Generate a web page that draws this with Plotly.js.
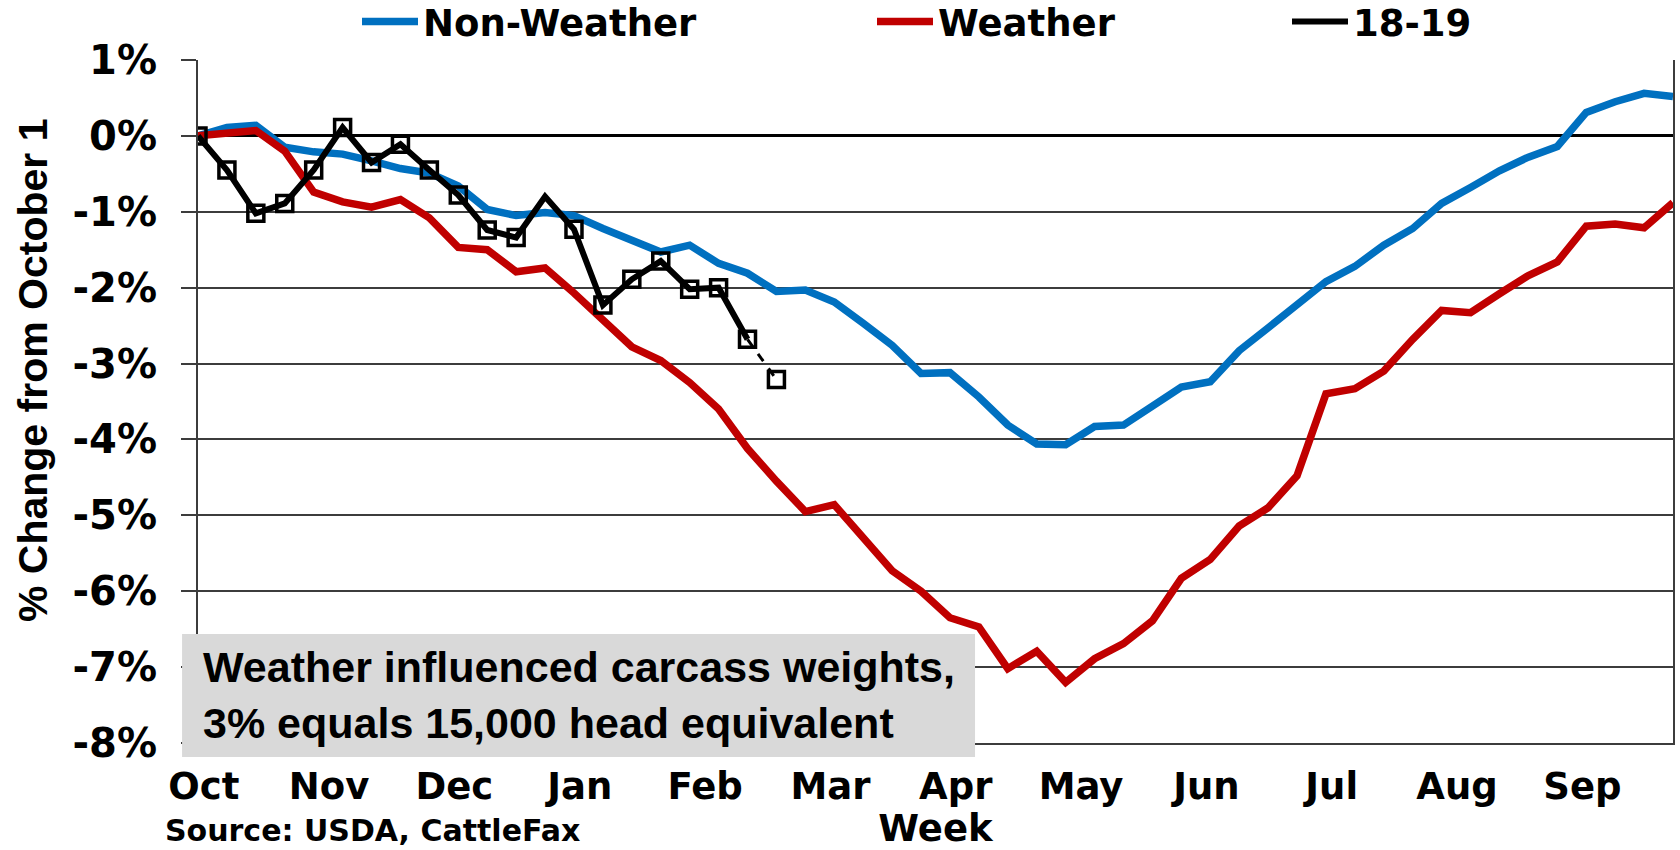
<!DOCTYPE html>
<html>
<head>
<meta charset="utf-8">
<script src="https://cdn.plot.ly/plotly-3.0.1.min.js"></script>
<style>
  html, body { margin: 0; padding: 0; background: #fff; }
  #chart { width: 1680px; height: 850px; }
</style>
</head>
<body>
<div id="chart"></div>
<script>
// Weeks since October 1 (0 = first week of October)
var weeks = [];
for (var i = 0; i < 52; i++) weeks.push(i);

// % change from October 1
var nonWeather = [0, 0.11, 0.14, -0.15, -0.21, -0.24, -0.33, -0.43, -0.49, -0.66,
  -0.97, -1.05, -1.01, -1.05, -1.22, -1.37, -1.53, -1.44, -1.68, -1.81,
  -2.05, -2.03, -2.19, -2.47, -2.76, -3.13, -3.12, -3.44, -3.81, -4.06,
  -4.07, -3.83, -3.81, -3.56, -3.31, -3.24, -2.83, -2.53, -2.22, -1.92,
  -1.72, -1.44, -1.22, -0.89, -0.68, -0.46, -0.28, -0.14, 0.31, 0.45,
  0.56, 0.52];

var weather = [0, 0.03, 0.07, -0.20, -0.74, -0.87, -0.94, -0.84, -1.08, -1.47,
  -1.50, -1.79, -1.74, -2.07, -2.43, -2.78, -2.96, -3.25, -3.60, -4.12,
  -4.55, -4.95, -4.86, -5.29, -5.73, -6.00, -6.35, -6.47, -7.02, -6.79,
  -7.20, -6.89, -6.69, -6.39, -5.83, -5.58, -5.14, -4.90, -4.48, -3.40,
  -3.33, -3.10, -2.68, -2.30, -2.33, -2.08, -1.84, -1.66, -1.19, -1.16,
  -1.21, -0.88];

// 2018-19 season so far; last week is a preliminary estimate (dashed)
var season1819 = [0, -0.45, -1.02, -0.89, -0.45, 0.11, -0.35, -0.11, -0.45, -0.78,
  -1.24, -1.34, -0.80, -1.23, -2.23, -1.89, -1.65, -2.02, -2.00, -2.68,
  -3.21];

var monthLabels = ['Oct', 'Nov', 'Dec', 'Jan', 'Feb', 'Mar', 'Apr', 'May', 'Jun', 'Jul', 'Aug', 'Sep'];
var yTickVals = [1, 0, -1, -2, -3, -4, -5, -6, -7, -8];
var yTickLabels = ['1%', '0%', '-1%', '-2%', '-3%', '-4%', '-5%', '-6%', '-7%', '-8%'];

var n1819 = season1819.length;
var weeks1819 = weeks.slice(0, n1819);

// month labels sit every 52/12 weeks
var monthPos = monthLabels.map(function(m, k) { return 0.2 + k * 52 / 12; });

// the week 12 point has no marker in the original
var markerSizes = season1819.map(function(v, k) { return k === 12 ? 0 : 16; });

var axisFont = {family: 'DejaVu Sans', size: 37, color: '#000', weight: 'bold'};
var legendFont = {family: 'DejaVu Sans', size: 37, color: '#000', weight: 'bold'};

var traceNonWeather = {
    x: weeks, y: nonWeather, name: 'Non-Weather',
    type: 'scatter', mode: 'lines', legend: 'legend',
    line: {color: '#0070C0', width: 7.5}
};
var traceWeather = {
    x: weeks, y: weather, name: 'Weather',
    type: 'scatter', mode: 'lines', legend: 'legend2',
    line: {color: '#C00000', width: 7.5}
};
var trace1819 = {
    x: weeks1819.slice(0, n1819 - 1), y: season1819.slice(0, n1819 - 1), name: '18-19',
    type: 'scatter', mode: 'lines', legend: 'legend3',
    line: {color: '#000', width: 6}
};
var trace1819Est = {
    x: weeks1819.slice(n1819 - 2), y: season1819.slice(n1819 - 2),
    type: 'scatter', mode: 'lines', showlegend: false,
    line: {color: '#000', width: 3, dash: 'dash'}
};
var trace1819Pts = {
    x: weeks1819, y: season1819,
    type: 'scatter', mode: 'markers', showlegend: false,
    marker: {symbol: 'square-open', size: markerSizes, color: '#000', opacity: 1,
             line: {width: 3.5, color: '#000'}}
};

var data = [traceNonWeather, traceWeather, trace1819, trace1819Est, trace1819Pts];

function legendAt(x) {
    return {
        orientation: 'h', x: x, xanchor: 'left', y: 1.0556, yanchor: 'middle',
        font: legendFont, itemwidth: 56, bgcolor: 'rgba(0,0,0,0)', borderwidth: 0
    };
}

var layout = {
    width: 1680, height: 850,
    margin: {l: 198, r: 7, t: 60, b: 107, autoexpand: false},
    paper_bgcolor: '#fff', plot_bgcolor: '#fff',
    font: axisFont,
    showlegend: true,
    legend: legendAt((357 - 198) / 1475),
    legend2: legendAt((872 - 198) / 1475),
    legend3: legendAt((1287 - 198) / 1475),
    xaxis: {
        range: [0, 51], tickvals: monthPos, ticktext: monthLabels,
        ticks: '', showgrid: false, zeroline: false,
        showline: true, linecolor: '#3c3c3c', linewidth: 2,
        tickfont: axisFont, automargin: false, ticklabelstandoff: 10,
        title: {text: 'Week', font: axisFont, standoff: 16}
    },
    yaxis: {
        range: [-8, 1], tickvals: yTickVals, ticktext: yTickLabels,
        ticks: 'outside', ticklen: 15, tickwidth: 2, tickcolor: '#3c3c3c',
        showgrid: true, gridcolor: '#3c3c3c', gridwidth: 2,
        zeroline: true, zerolinecolor: '#000', zerolinewidth: 3,
        showline: true, linecolor: '#3c3c3c', linewidth: 2, mirror: true,
        tickfont: {family: 'DejaVu Sans', size: 40, color: '#000', weight: 'bold'},
        automargin: false, ticklabelstandoff: 16
    },
    shapes: [{
        type: 'rect', xref: 'paper', yref: 'paper', layer: 'above',
        x0: -0.0108, x1: 0.5268, y0: -0.0205, y1: 0.1596,
        fillcolor: '#d9d9d9', line: {width: 0}
    }],
    annotations: [
        {
            xref: 'paper', yref: 'paper', x: 0.002, y: 0.0703,
            xanchor: 'left', yanchor: 'middle', align: 'left', showarrow: false,
            text: 'Weather influenced carcass weights,<br>3% equals 15,000 head equivalent',
            font: {family: 'Liberation Sans', size: 43, color: '#000', weight: 'bold'}
        },
        {
            xref: 'paper', yref: 'paper', x: -0.1119, y: 0.546,
            xanchor: 'center', yanchor: 'middle', textangle: -90, showarrow: false,
            text: '% Change from October 1',
            font: {family: 'Liberation Sans', size: 41, color: '#000', weight: 'bold'}
        },
        {
            xref: 'paper', yref: 'paper', x: -0.024, y: -0.1567,
            xanchor: 'left', yanchor: 'bottom', showarrow: false,
            text: 'Source: USDA, CattleFax',
            font: {family: 'DejaVu Sans', size: 30, color: '#000', weight: 'bold'}
        }
    ]
};

Plotly.newPlot('chart', data, layout, {displayModeBar: false, staticPlot: true});
</script>
</body>
</html>
